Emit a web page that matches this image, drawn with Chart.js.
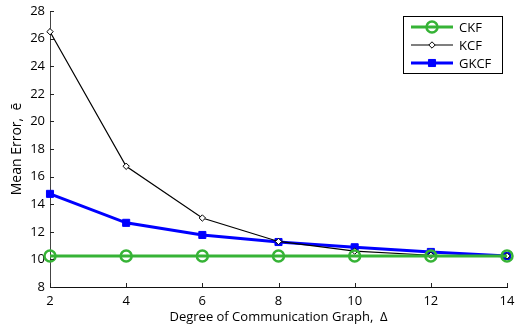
<!DOCTYPE html>
<html>
<head>
<meta charset="utf-8">
<script src="https://cdn.jsdelivr.net/npm/chart.js@4/dist/chart.umd.min.js"></script>
<style>
html,body{margin:0;padding:0;background:#fff;}
#wrap{width:515px;height:327px;position:relative;}
</style>
</head>
<body>
<div id="wrap"><canvas id="c" width="515" height="327"></canvas></div>
<script>
const degrees = [2, 4, 6, 8, 10, 12, 14];
const ckf  = [10.25, 10.25, 10.25, 10.25, 10.25, 10.25, 10.25];
const kcf  = [26.5, 16.75, 13.0, 11.3, 10.6, 10.3, 10.25];
const gkcf = [14.75, 12.65, 11.77, 11.26, 10.88, 10.54, 10.25];
const seriesNames = ['CKF', 'KCF', 'GKCF'];
const xTitle = 'Degree of Communication Graph,  \u0394';
const yTitle = 'Mean Error,  \u0113';

const FONT = 'Open Sans';
const pts = arr => degrees.map((d, i) => ({x: d, y: arr[i]}));

const inwardTicks = {
  id: 'inwardTicks',
  afterDraw(chart) {
    const {ctx, chartArea: a, scales: {x, y}} = chart;
    ctx.save();
    ctx.strokeStyle = '#222';
    ctx.lineWidth = 1;
    ctx.beginPath();
    x.ticks.forEach(t => {
      const px = Math.round(x.getPixelForValue(t.value)) + 0.5;
      ctx.moveTo(px, a.bottom); ctx.lineTo(px, a.bottom - 4);
    });
    y.ticks.forEach(t => {
      const py = Math.round(y.getPixelForValue(t.value)) + 0.5;
      ctx.moveTo(a.left, py); ctx.lineTo(a.left + 4, py);
    });
    ctx.stroke();
    ctx.restore();
  }
};

const boxLegend = {
  id: 'boxLegend',
  afterDraw(chart) {
    const ctx = chart.ctx;
    const bx = 403.5, by = 16.5, bw = 99, bh = 57;
    ctx.save();
    ctx.fillStyle = '#fff';
    ctx.fillRect(bx, by, bw, bh);
    ctx.strokeStyle = '#000';
    ctx.lineWidth = 1;
    ctx.strokeRect(bx, by, bw, bh);
    chart.data.datasets.forEach((ds, i) => {
      const yy = 27 + i * 18;
      ctx.strokeStyle = ds.borderColor;
      ctx.lineWidth = ds.borderWidth;
      ctx.beginPath();
      ctx.moveTo(411, yy); ctx.lineTo(453, yy);
      ctx.stroke();
      ctx.fillStyle = ds.pointBackgroundColor;
      ctx.strokeStyle = ds.pointBorderColor;
      ctx.lineWidth = ds.pointBorderWidth;
      Chart.helpers.drawPoint(ctx, {pointStyle: ds.pointStyle, radius: ds.pointRadius, borderWidth: ds.pointBorderWidth, rotation: 0}, 432, yy);
      ctx.fillStyle = '#000';
      ctx.font = '13px "' + FONT + '"';
      ctx.textBaseline = 'middle';
      ctx.textAlign = 'left';
      ctx.fillText(ds.label, 459, yy + 1);
    });
    ctx.restore();
  }
};

new Chart(document.getElementById('c'), {
  type: 'line',
  data: {
    datasets: [
      {label: seriesNames[0], data: pts(ckf), borderColor: '#36b336', borderWidth: 3,
       pointStyle: 'circle', pointRadius: 5.5, pointBorderWidth: 2.5,
       pointBorderColor: '#36b336', pointBackgroundColor: 'rgba(255,255,255,0)', clip: false},
      {label: seriesNames[1], data: pts(kcf), borderColor: '#000', borderWidth: 1.2,
       pointStyle: 'rectRot', pointRadius: 3.2, pointBorderWidth: 1,
       pointBorderColor: '#000', pointBackgroundColor: '#fff', clip: false},
      {label: seriesNames[2], data: pts(gkcf), borderColor: '#0000ff', borderWidth: 3,
       pointStyle: 'rect', pointRadius: 5, pointBorderWidth: 1,
       pointBorderColor: '#0000ff', pointBackgroundColor: '#0000ff', clip: false}
    ]
  },
  options: {
    responsive: false,
    animation: false,
    devicePixelRatio: 1,
    layout: {padding: {left: 0, right: 6, top: 11, bottom: 2}},
    plugins: {legend: {display: false}, tooltip: {enabled: false}},
    elements: {line: {tension: 0}},
    scales: {
      x: {
        type: 'linear', min: 2, max: 14,
        ticks: {stepSize: 2, color: '#000', font: {family: FONT, size: 13}, padding: 6},
        grid: {display: true, drawOnChartArea: false, drawTicks: false},
        border: {display: true, color: '#111', width: 1},
        title: {display: true, text: xTitle, color: '#000', font: {family: FONT, size: 13}, padding: {top: 1, bottom: 0}},
        afterFit(s) { s.height = 38; s.paddingRight = 0; s.paddingLeft = 0; }
      },
      y: {
        min: 8, max: 28,
        ticks: {stepSize: 2, color: '#000', font: {family: FONT, size: 13}, padding: 5},
        grid: {display: true, drawOnChartArea: false, drawTicks: false},
        border: {display: true, color: '#444', width: 1},
        title: {display: true, text: yTitle, color: '#000', font: {family: FONT, size: 14}, padding: {top: 9, bottom: 4}},
        afterFit(s) { s.width = 50; s.paddingTop = 0; s.paddingBottom = 0; }
      }
    }
  },
  plugins: [inwardTicks, boxLegend]
});
</script>
</body>
</html>
